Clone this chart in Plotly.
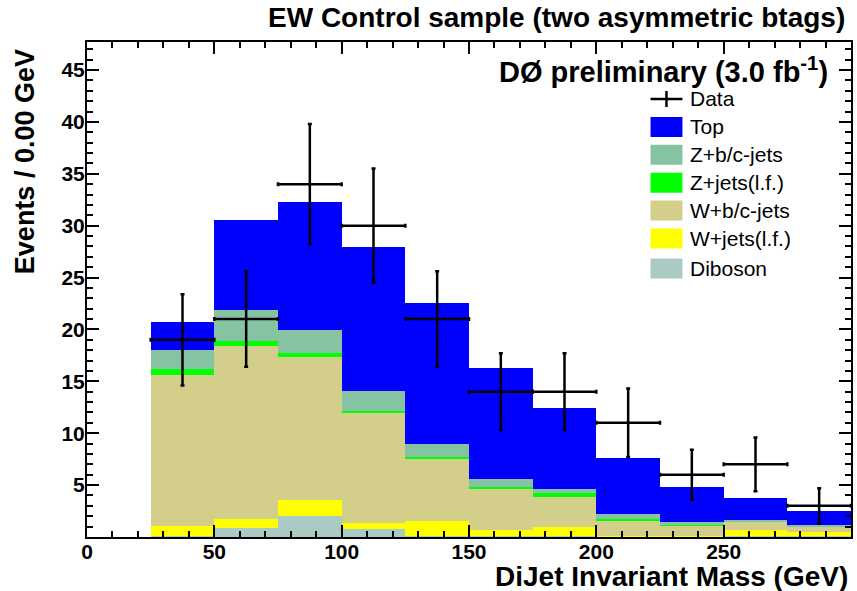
import plotly.graph_objects as go

# ---- data ----
bin_centers = [12.5, 37.5, 62.5, 87.5, 112.5, 137.5, 162.5, 187.5, 212.5, 237.5, 262.5, 287.5]
bin_width = 25
diboson = [0, 0.05, 0.85, 2.0, 0.75, 0.1, 0.05, 0.05, 0.05, 0.05, 0.05, 0.05]
w_lf = [0, 1.0, 0.9, 1.55, 0.6, 1.4, 0.6, 0.9, 0.05, 0.05, 0.6, 0.45]
w_bc = [0, 14.55, 16.7, 13.75, 10.65, 6.0, 3.95, 2.9, 1.5, 1.0, 0.8, 0.5]
z_lf = [0, 0.6, 0.4, 0.4, 0.1, 0.2, 0.2, 0.35, 0.1, 0.05, 0.05, 0.05]
z_bc = [0, 1.8, 3.0, 2.2, 2.0, 1.25, 0.8, 0.4, 0.55, 0.3, 0.1, 0.15]
top = [0, 2.7, 8.7, 12.4, 13.8, 13.6, 10.7, 7.8, 5.35, 3.35, 2.15, 1.3]
data_counts = [0, 19, 21, 34, 30, 21, 14, 14, 11, 6, 7, 3]
data_err = [0, 4.4, 4.6, 5.8, 5.5, 4.6, 3.7, 3.7, 3.3, 2.4, 2.6, 1.7]

x_ticks = [0, 50, 100, 150, 200, 250]
y_ticks = [5, 10, 15, 20, 25, 30, 35, 40, 45]

# ---- styles ----
FONT = "Liberation Sans, Arial, Helvetica, sans-serif"
components = [
    ("Diboson", diboson, "#aacbc3"),
    ("W+jets(l.f.)", w_lf, "#ffff00"),
    ("W+b/c-jets", w_bc, "#d3ce8a"),
    ("Z+jets(l.f.)", z_lf, "#00ff00"),
    ("Z+b/c-jets", z_bc, "#86c3a2"),
    ("Top", top, "#0000ff"),
]

W, H = 857, 591
ML, MR, MT, MB = 87, 4, 42, 54
PW, PH = W - ML - MR, H - MT - MB


def px(xp):
    return (xp - ML) / PW


def py(yp):
    return (H - MB - yp) / PH


fig = go.Figure()
for name, vals, color in components:
    fig.add_trace(go.Bar(
        x=bin_centers, y=vals, width=bin_width, name=name,
        marker=dict(color=color, line=dict(width=0)),
    ))

# data points (skip empty bins)
dx = [x for x, n in zip(bin_centers, data_counts) if n > 0]
dy = [n for n in data_counts if n > 0]
de = [e for e, n in zip(data_err, data_counts) if n > 0]
fig.add_trace(go.Scatter(
    x=dx, y=dy, mode="markers", name="Data",
    marker=dict(size=1, color="black"),
    error_x=dict(type="constant", value=bin_width / 2, color="black", thickness=2.5, width=2),
    error_y=dict(type="data", array=de, color="black", thickness=2.5, width=2),
))

fig.update_layout(
    width=W, height=H,
    margin=dict(l=ML, r=MR, t=MT, b=MB),
    paper_bgcolor="white", plot_bgcolor="white",
    barmode="stack", bargap=0,
    font=dict(family=FONT, color="black"),
    showlegend=False,
)
fig.update_xaxes(
    range=[0, 300], tickvals=x_ticks, ticktext=[str(v) for v in x_ticks],
    ticks="inside", ticklen=12, tickwidth=1.5, tickcolor="black",
    minor=dict(ticks="inside", ticklen=6, dtick=10, tick0=0, tickcolor="black", tickwidth=1.5),
    showline=True, linecolor="black", linewidth=2, mirror="allticks",
    showgrid=False, zeroline=False,
    tickfont=dict(family=FONT, size=21, weight="bold"),
    ticklabelstandoff=-5,
)
fig.update_yaxes(
    range=[0, 47.7], tickvals=y_ticks, ticktext=[str(v) for v in y_ticks],
    ticks="inside", ticklen=12, tickwidth=1.5, tickcolor="black",
    minor=dict(ticks="inside", ticklen=6, dtick=1, tick0=0, tickcolor="black", tickwidth=1.5),
    showline=True, linecolor="black", linewidth=2, mirror="allticks",
    showgrid=False, zeroline=False,
    tickfont=dict(family=FONT, size=21, weight="bold"),
    ticklabelstandoff=-4,
)

fig.add_annotation(
    text="EW Control sample (two asymmetric btags)", xref="paper", yref="paper",
    x=px(849), y=py(18), xanchor="right", yanchor="middle", showarrow=False,
    font=dict(family=FONT, size=28, weight="bold"),
)
fig.add_annotation(
    text="DØ preliminary (3.0 fb<sup>-1</sup>)", xref="paper", yref="paper",
    x=px(832), y=py(83), xanchor="right", yanchor="bottom", showarrow=False,
    font=dict(family=FONT, size=29, weight="bold"), yshift=-7,
)
fig.add_annotation(
    text="DiJet Invariant Mass (GeV)", xref="paper", yref="paper",
    x=px(852), y=py(576), xanchor="right", yanchor="middle", showarrow=False,
    font=dict(family=FONT, size=28, weight="bold"),
)
fig.add_annotation(
    text="Events / 0.00 GeV", xref="paper", yref="paper", textangle=-90,
    x=px(25), y=py(162), xanchor="center", yanchor="middle", showarrow=False,
    font=dict(family=FONT, size=27, weight="bold"),
)

# ---- hand-drawn legend (ROOT style) ----
legend_rows = [("Data", None)] + [(n, c) for n, _, c in reversed(components)]
box_x0, box_x1, text_x = 652, 684, 690
row_y0, row_dy = 99, 27.9
shapes = []
for i, (name, color) in enumerate(legend_rows):
    yc = row_y0 + i * row_dy + (2 if i == len(legend_rows) - 1 else 0)
    if color is None:
        shapes.append(dict(type="line", xref="paper", yref="paper",
                           x0=px(box_x0), x1=px(box_x1), y0=py(yc), y1=py(yc),
                           line=dict(color="black", width=2.5)))
        shapes.append(dict(type="line", xref="paper", yref="paper",
                           x0=px((box_x0 + box_x1) / 2), x1=px((box_x0 + box_x1) / 2),
                           y0=py(yc - 8), y1=py(yc + 8),
                           line=dict(color="black", width=2.5)))
    else:
        shapes.append(dict(type="rect", xref="paper", yref="paper",
                           x0=px(box_x0), x1=px(box_x1), y0=py(yc - 10), y1=py(yc + 10),
                           fillcolor=color, line=dict(width=0)))
    fig.add_annotation(
        text=name, xref="paper", yref="paper", x=px(text_x), y=py(yc),
        xanchor="left", yanchor="middle", showarrow=False,
        font=dict(family=FONT, size=21, color="black"),
    )
fig.update_layout(shapes=shapes)

fig.write_html("out.html")
